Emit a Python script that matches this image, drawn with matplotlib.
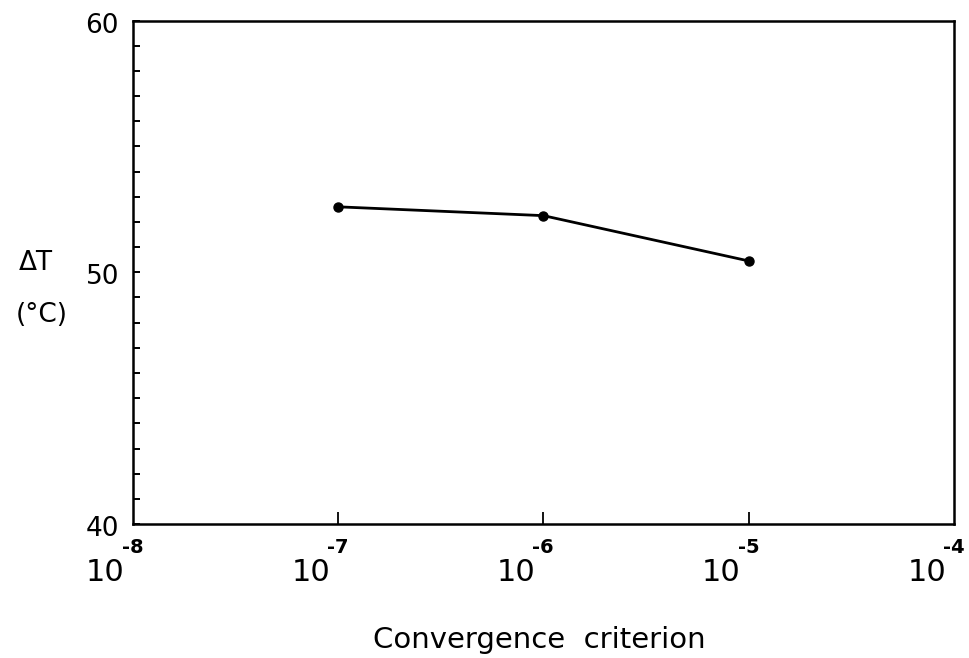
import numpy as np
import matplotlib.pyplot as plt
import matplotlib.transforms as mtransforms

# Temperature rise vs. solver convergence criterion
criterion = [1e-7, 1e-6, 1e-5]
delta_t = [52.6, 52.25, 50.45]

xtick_vals = [1e-8, 1e-7, 1e-6, 1e-5, 1e-4]
xtick_exps = ['-8', '-7', '-6', '-5', '-4']
ytick_vals = [40, 50, 60]

fig = plt.figure(figsize=(9.7, 6.58), dpi=100)
ax = fig.add_axes([0.137, 0.2036, 0.8465, 0.7652])

ax.plot(criterion, delta_t, color='black', lw=2.0, marker='o', ms=6.5)

ax.set_xscale('log')
ax.set_xlim(1e-8, 1e-4)
ax.set_ylim(40, 60)

for s in ax.spines.values():
    s.set_linewidth(1.8)

# y axis: major labels every 10, small inward ticks every 1
ax.set_yticks(ytick_vals)
ax.set_yticks(np.arange(41, 60, 1), minor=True)
ax.tick_params(axis='y', which='both', direction='in', length=5, width=1.4,
               labelsize=19, pad=10)
for lab in ax.get_yticklabels():
    lab.set_verticalalignment('center')
    lab.set_transform(lab.get_transform() + mtransforms.ScaledTranslation(0, -0.05, fig.dpi_scale_trans))

# x axis: ticks only, labels drawn by hand as 10 with raised exponent
ax.set_xticks(xtick_vals[1:-1])
ax.xaxis.set_minor_locator(plt.NullLocator())
ax.tick_params(axis='x', which='both', direction='in', length=9, width=1.3,
               labelbottom=False)

trans = mtransforms.blended_transform_factory(ax.transData, ax.transAxes)
for v, e in zip(xtick_vals, xtick_exps):
    base = trans + mtransforms.ScaledTranslation(-0.08, -0.57, fig.dpi_scale_trans)
    ax.text(v, 0, '10', transform=base, ha='right', va='baseline',
            fontsize=22, clip_on=False)
    sup = trans + mtransforms.ScaledTranslation(-0.11, -0.29, fig.dpi_scale_trans)
    ax.text(v, 0, e, transform=sup, ha='left', va='baseline',
            fontsize=14, fontweight='bold', clip_on=False)

fig.text(0.037, 0.600, '\u0394T', fontsize=19, ha='center', va='center')
fig.text(0.043, 0.521, '(\u00b0C)', fontsize=19, ha='center', va='center')
fig.text(0.556, 0.027, 'Convergence  criterion', fontsize=21, ha='center',
         va='center')

fig.savefig('out.png', dpi=100)
